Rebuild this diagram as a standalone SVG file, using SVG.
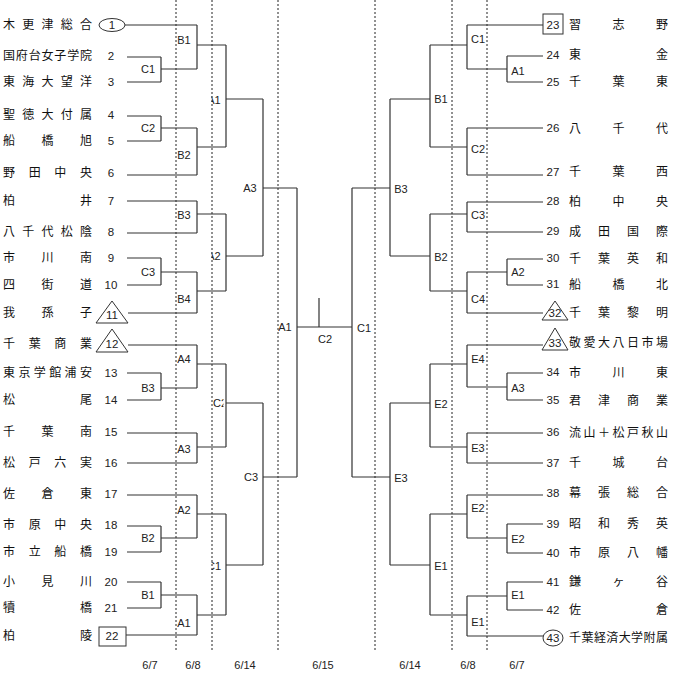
<svg xmlns="http://www.w3.org/2000/svg" width="700" height="681" viewBox="0 0 700 681">
<style>
.bg{fill:#fff}
.grid line{stroke:#222;stroke-width:1;stroke-dasharray:2,2}
.conn path{fill:none;stroke:#333;stroke-width:1.2}
.name{font-family:"Noto Sans CJK JP","Noto Sans CJK SC",sans-serif;font-size:12px;fill:#111}
.num{font-family:"Liberation Sans",Arial,sans-serif;font-size:11.5px;fill:#222;text-anchor:middle}
.lbl{font-family:"Liberation Sans",Arial,sans-serif;font-size:11px;fill:#222;text-anchor:middle}
.mark{fill:none;stroke:#333;stroke-width:1}
</style>
<defs>
<clipPath id="clipL"><rect x="211.5" y="0" width="15" height="681"/></clipPath>
<clipPath id="clipR"><rect x="200" y="0" width="23.5" height="681"/></clipPath>
</defs>
<rect class="bg" x="0" y="0" width="700" height="681"/>
<g id="grid" class="grid">
<line x1="176" y1="0" x2="176" y2="652"/>
<line x1="212" y1="0" x2="212" y2="652"/>
<line x1="278" y1="0" x2="278" y2="652"/>
<line x1="375" y1="0" x2="375" y2="652"/>
<line x1="452" y1="0" x2="452" y2="652"/>
<line x1="487" y1="0" x2="487" y2="652"/>
</g>
<g id="connectors" class="conn">
<path d="M125,25H197M127,57H161M127,82H161M161,57V82M161,69H197M127,116H161M127,141H161M161,116V141M161,128H197M127,175H197M127,201H197M127,233H197M127,258H161M127,285H161M161,258V285M161,272H197M128,313H197M128,345H197M127,373H161M127,400H161M161,373V400M161,388H197M127,433H197M127,463H197M127,495H197M127,526H161M127,552H161M161,526V552M161,538H197M127,582H161M127,608H161M161,582V608M161,595H197M126,635H197"/>
<path d="M197,25V69M197,128V175M197,201V233M197,272V313M197,345V388M197,433V463M197,495V538M197,595V635M197,45H226M197,147H226M197,214H226M197,291H226M197,364H226M197,447H226M197,514H226M197,615H226"/>
<path d="M226,45V147M226,214V291M226,364V447M226,514V615M226,99H263M226,256H263M226,403H263M226,565H263M263,99V256M263,403V565M263,188H297M263,477H297M297,188V477M297,327H352M319,298V327M352,188V477"/>
<path d="M352,188H390M352,477H390M390,99V256M390,403V565M390,99H430M390,256H430M390,403H430M390,565H430M430,45V147M430,214V291M430,364V447M430,514V615M430,45H467M430,147H467M430,214H467M430,291H467M430,364H467M430,447H467M430,514H467M430,615H467"/>
<path d="M467,25V69M467,128V175M467,202V232M467,272V313M467,345V387M467,433V463M467,495V538M467,596V636M467,25H543M467,69H507M507,56V82M507,56H543M507,82H543M467,128H543M467,175H543M467,202H543M467,232H543M467,272H507M507,259V285M507,259H543M507,285H543M467,313H543M467,345H543M467,387H507M507,373V400M507,373H543M507,400H543M467,433H543M467,463H543M467,495H543M467,538H507M507,524V553M507,524H543M507,553H543M467,596H507M507,582V610M507,582H543M507,610H543M467,636H543"/>
</g>
<g id="match-labels">
<text class="lbl" x="148" y="73">C1</text>
<text class="lbl" x="148" y="132">C2</text>
<text class="lbl" x="148" y="276">C3</text>
<text class="lbl" x="148" y="392">B3</text>
<text class="lbl" x="148" y="542">B2</text>
<text class="lbl" x="148" y="599">B1</text>
<text class="lbl" x="184" y="44">B1</text>
<text class="lbl" x="184" y="159">B2</text>
<text class="lbl" x="184" y="219">B3</text>
<text class="lbl" x="184" y="303">B4</text>
<text class="lbl" x="184" y="363">A4</text>
<text class="lbl" x="184" y="453">A3</text>
<text class="lbl" x="184" y="514">A2</text>
<text class="lbl" x="184" y="627">A1</text>
<text class="lbl" x="214" y="104" clip-path="url(#clipL)">A1</text>
<text class="lbl" x="214" y="260" clip-path="url(#clipL)">A2</text>
<text class="lbl" x="220" y="407" clip-path="url(#clipR)">C2</text>
<text class="lbl" x="214" y="570" clip-path="url(#clipL)">C1</text>
<text class="lbl" x="250" y="192">A3</text>
<text class="lbl" x="251" y="481">C3</text>
<text class="lbl" x="285" y="331">A1</text>
<text class="lbl" x="325" y="343">C2</text>
<text class="lbl" x="364" y="332">C1</text>
<text class="lbl" x="401" y="193">B3</text>
<text class="lbl" x="401" y="482">E3</text>
<text class="lbl" x="441" y="103">B1</text>
<text class="lbl" x="441" y="261">B2</text>
<text class="lbl" x="441" y="408">E2</text>
<text class="lbl" x="441" y="570">E1</text>
<text class="lbl" x="478" y="43">C1</text>
<text class="lbl" x="478" y="153">C2</text>
<text class="lbl" x="478" y="219">C3</text>
<text class="lbl" x="478" y="303">C4</text>
<text class="lbl" x="478" y="363">E4</text>
<text class="lbl" x="478" y="452">E3</text>
<text class="lbl" x="478" y="512">E2</text>
<text class="lbl" x="478" y="626">E1</text>
<text class="lbl" x="518" y="75">A1</text>
<text class="lbl" x="518" y="276">A2</text>
<text class="lbl" x="518" y="392">A3</text>
<text class="lbl" x="518" y="543">E2</text>
<text class="lbl" x="518" y="599">E1</text>
</g>
<g id="dates">
<text class="lbl" x="150" y="669">6/7</text>
<text class="lbl" x="193" y="669">6/8</text>
<text class="lbl" x="245" y="669">6/14</text>
<text class="lbl" x="323" y="669">6/15</text>
<text class="lbl" x="410" y="669">6/14</text>
<text class="lbl" x="468" y="669">6/8</text>
<text class="lbl" x="517" y="669">6/7</text>
</g>
<g id="team-1"><text class="name" x="3 22.25 41.5 60.75 80" y="29">木更津総合</text><ellipse class="mark" cx="112" cy="25" rx="13" ry="6.5"/><text class="num" x="112" y="29">1</text></g>
<g id="team-2"><text class="name" x="3 15.83 28.67 41.5 54.33 67.17 80" y="60">国府台女子学院</text><text class="num" x="111" y="60">2</text></g>
<g id="team-3"><text class="name" x="3 22.25 41.5 60.75 80" y="86">東海大望洋</text><text class="num" x="111" y="86">3</text></g>
<g id="team-4"><text class="name" x="3 22.25 41.5 60.75 80" y="119">聖徳大付属</text><text class="num" x="111" y="119">4</text></g>
<g id="team-5"><text class="name" x="3 41.5 80" y="145">船橋旭</text><text class="num" x="111" y="145">5</text></g>
<g id="team-6"><text class="name" x="3 28.67 54.33 80" y="177">野田中央</text><text class="num" x="111" y="177">6</text></g>
<g id="team-7"><text class="name" x="3 80" y="205">柏井</text><text class="num" x="111" y="205">7</text></g>
<g id="team-8"><text class="name" x="3 22.25 41.5 60.75 80" y="236">八千代松陰</text><text class="num" x="111" y="236">8</text></g>
<g id="team-9"><text class="name" x="3 41.5 80" y="262">市川南</text><text class="num" x="111" y="262">9</text></g>
<g id="team-10"><text class="name" x="3 41.5 80" y="289">四街道</text><text class="num" x="111" y="289">10</text></g>
<g id="team-11"><text class="name" x="3 41.5 80" y="317">我孫子</text><polygon class="mark" points="96,323 112,301 128,323"/><text class="num" x="112" y="319">11</text></g>
<g id="team-12"><text class="name" x="3 28.67 54.33 80" y="348">千葉商業</text><polygon class="mark" points="96,352 112,329 128,352"/><text class="num" x="112" y="348">12</text></g>
<g id="team-13"><text class="name" x="3 18.4 33.8 49.2 64.6 80" y="377">東京学館浦安</text><text class="num" x="111" y="377">13</text></g>
<g id="team-14"><text class="name" x="3 80" y="404">松尾</text><text class="num" x="111" y="404">14</text></g>
<g id="team-15"><text class="name" x="3 41.5 80" y="436">千葉南</text><text class="num" x="111" y="436">15</text></g>
<g id="team-16"><text class="name" x="3 28.67 54.33 80" y="467">松戸六実</text><text class="num" x="111" y="467">16</text></g>
<g id="team-17"><text class="name" x="3 41.5 80" y="498">佐倉東</text><text class="num" x="111" y="498">17</text></g>
<g id="team-18"><text class="name" x="3 28.67 54.33 80" y="529">市原中央</text><text class="num" x="111" y="529">18</text></g>
<g id="team-19"><text class="name" x="3 28.67 54.33 80" y="556">市立船橋</text><text class="num" x="111" y="556">19</text></g>
<g id="team-20"><text class="name" x="3 41.5 80" y="586">小見川</text><text class="num" x="111" y="586">20</text></g>
<g id="team-21"><text class="name" x="3 80" y="612">犢橋</text><text class="num" x="111" y="612">21</text></g>
<g id="team-22"><text class="name" x="3 80" y="640">柏陵</text><rect class="mark" x="99" y="627" width="27" height="19"/><text class="num" x="112" y="640">22</text></g>
<g id="team-23"><rect class="mark" x="543" y="14" width="20" height="20"/><text class="num" x="553" y="29">23</text><text class="name" x="569 612.5 656" y="29">習志野</text></g>
<g id="team-24"><text class="num" x="553" y="59">24</text><text class="name" x="569 656" y="59">東金</text></g>
<g id="team-25"><text class="num" x="553" y="86">25</text><text class="name" x="569 612.5 656" y="86">千葉東</text></g>
<g id="team-26"><text class="num" x="553" y="132">26</text><text class="name" x="569 612.5 656" y="133">八千代</text></g>
<g id="team-27"><text class="num" x="553" y="176">27</text><text class="name" x="569 612.5 656" y="176">千葉西</text></g>
<g id="team-28"><text class="num" x="553" y="205">28</text><text class="name" x="569 612.5 656" y="206">柏中央</text></g>
<g id="team-29"><text class="num" x="553" y="235">29</text><text class="name" x="569 598 627 656" y="236">成田国際</text></g>
<g id="team-30"><text class="num" x="553" y="262">30</text><text class="name" x="569 598 627 656" y="263">千葉英和</text></g>
<g id="team-31"><text class="num" x="553" y="288">31</text><text class="name" x="569 612.5 656" y="289">船橋北</text></g>
<g id="team-32"><polygon class="mark" points="542,320 555,301 568,320"/><text class="num" x="555" y="317">32</text><text class="name" x="569 598 627 656" y="317">千葉黎明</text></g>
<g id="team-33"><polygon class="mark" points="542,350 555,328 568,350"/><text class="num" x="555" y="347">33</text><text class="name" x="569 583.5 598 612.5 627 641.5 656" y="347">敬愛大八日市場</text></g>
<g id="team-34"><text class="num" x="553" y="376">34</text><text class="name" x="569 612.5 656" y="377">市川東</text></g>
<g id="team-35"><text class="num" x="553" y="404">35</text><text class="name" x="569 598 627 656" y="405">君津商業</text></g>
<g id="team-36"><text class="num" x="553" y="436">36</text><text class="name" x="569 583.5 598 612.5 627 641.5 656" y="437">流山＋松戸秋山</text></g>
<g id="team-37"><text class="num" x="553" y="467">37</text><text class="name" x="569 612.5 656" y="467">千城台</text></g>
<g id="team-38"><text class="num" x="553" y="497">38</text><text class="name" x="569 598 627 656" y="497">幕張総合</text></g>
<g id="team-39"><text class="num" x="553" y="528">39</text><text class="name" x="569 598 627 656" y="528">昭和秀英</text></g>
<g id="team-40"><text class="num" x="553" y="557">40</text><text class="name" x="569 598 627 656" y="557">市原八幡</text></g>
<g id="team-41"><text class="num" x="553" y="586">41</text><text class="name" x="569 612.5 656" y="586">鎌ヶ谷</text></g>
<g id="team-42"><text class="num" x="553" y="614">42</text><text class="name" x="569 656" y="614">佐倉</text></g>
<g id="team-43"><ellipse class="mark" cx="553" cy="638" rx="10" ry="8"/><text class="num" x="553" y="642">43</text><text class="name" x="569 581.4 593.9 606.3 618.7 631.1 643.6 656" y="642">千葉経済大学附属</text></g>
</svg>
